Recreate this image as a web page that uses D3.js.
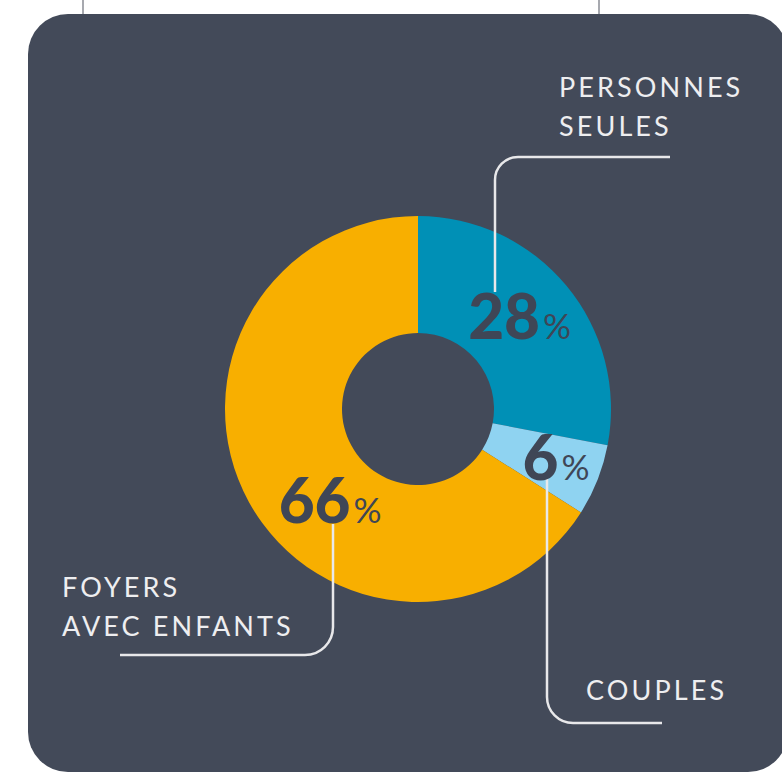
<!DOCTYPE html>
<html>
<head>
<meta charset="utf-8">
<script src="https://cdn.jsdelivr.net/npm/d3@7"></script>
<style>
  body { margin: 0; background: #fff; }
  svg { display: block; }
</style>
</head>
<body>
<svg id="chart" width="782" height="773"></svg>
<script>
// shares of households
var categories = ['Personnes seules', 'Couples', 'Foyers avec enfants'];
var values = [28, 6, 66];
var labelLines = [['PERSONNES', 'SEULES'], ['COUPLES'], ['FOYERS', 'AVEC ENFANTS']];
var colors = ['#0090b6', '#8fd3f1', '#f8af00'];

var svg = d3.select('#chart');
var cx = 418, cy = 409;
var outerR = 193, innerR = 76;
var lineColor = '#e8e8ea';
var darkText = '#3f4656';

// bits of the frame above
svg.append('line').attr('x1', 83).attr('x2', 83).attr('y1', 0).attr('y2', 16)
  .attr('stroke', '#8a8d94').attr('stroke-width', 1.5);
svg.append('line').attr('x1', 599).attr('x2', 599).attr('y1', 0).attr('y2', 16)
  .attr('stroke', '#8a8d94').attr('stroke-width', 1.5);

// dark panel
svg.append('rect')
  .attr('x', 28).attr('y', 14)
  .attr('width', 760).attr('height', 758)
  .attr('rx', 40).attr('ry', 40)
  .attr('fill', '#434a59');

var pie = d3.pie().sort(null).value(d => d)
  .startAngle(0).endAngle(2 * Math.PI);
var arc = d3.arc().innerRadius(innerR).outerRadius(outerR);
var arcs = pie(values);

var g = svg.append('g').attr('transform', `translate(${cx},${cy})`);

g.selectAll('path')
  .data(arcs)
  .enter()
  .append('path')
  .attr('d', arc)
  .attr('fill', (d, i) => colors[i]);

// leader lines (drawn under the numbers)
var lead = svg.append('g')
  .attr('fill', 'none')
  .attr('stroke', lineColor)
  .attr('stroke-width', 2.5);
lead.append('path').attr('d', 'M670,157 H518 A23,23 0 0 0 495,180 V292');
lead.append('path').attr('d', 'M547,478 V697 A26,26 0 0 0 573,723 H662');
lead.append('path').attr('d', 'M333,524 V627 A28,28 0 0 1 305,655 H120');

// percentages near the arc centroids
var pctOffsets = [[-2, 16], [13, 21], [30, 49]];
var pct = svg.append('g').attr('transform', `translate(${cx},${cy})`);
arcs.forEach(function(d, i) {
  var c = arc.centroid(d);
  var t = pct.append('text')
    .attr('x', c[0] + pctOffsets[i][0])
    .attr('y', c[1] + pctOffsets[i][1])
    .attr('text-anchor', 'middle')
    .attr('fill', darkText)
    .style('font-family', 'Lato, sans-serif');
  t.append('tspan')
    .style('font-size', '62px')
    .style('font-weight', 900)
    .text(values[i]);
  t.append('tspan')
    .attr('dx', 3)
    .style('font-size', '35px')
    .style('font-weight', 400)
    .text('%');
});

// category labels
var labelPos = [[559, 97], [586, 700], [62, 597]];
labelLines.forEach(function(lines, i) {
  var t = svg.append('text')
    .attr('x', labelPos[i][0])
    .attr('y', labelPos[i][1])
    .attr('fill', '#eeeef0')
    .style('font-family', 'Lato, sans-serif')
    .style('font-size', '27px')
    .style('font-weight', 400)
    .style('letter-spacing', '3.1px');
  lines.forEach(function(l, j) {
    t.append('tspan')
      .attr('x', labelPos[i][0])
      .attr('dy', j == 0 ? 0 : 39)
      .text(l);
  });
});
</script>
</body>
</html>
